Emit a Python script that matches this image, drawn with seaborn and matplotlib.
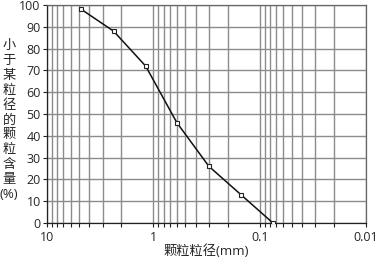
import numpy as np
import pandas as pd
from matplotlib import pyplot as plt
from matplotlib.ticker import LogLocator, FuncFormatter, MultipleLocator, NullFormatter
import seaborn as sns

# sieve sizes (mm) and passing percentage
sizes = [4.75, 2.36, 1.18, 0.6, 0.3, 0.15, 0.075]
passing = [98, 88, 72, 46, 26, 13, 0]
x_ticks = [10, 1, 0.1, 0.01]
ylabel = '小于某粒径的颗粒含量(%)'
xlabel = '颗粒粒径(mm)'

sns.set_style('white')
plt.rcParams['font.family'] = ['Open Sans', 'Noto Sans CJK SC', 'DejaVu Sans']

df = pd.DataFrame({'size': sizes, 'passing': passing})

fig = plt.figure(figsize=(3.77, 2.57), dpi=100)
ax = fig.add_axes([0.1247, 0.1323, 0.846, 0.848])

sns.lineplot(data=df, x='size', y='passing', ax=ax, color='#111111', lw=1.1,
             marker='s', markersize=3.2, markerfacecolor='white',
             markeredgecolor='#222222', markeredgewidth=0.8, zorder=3)

ax.set_xscale('log')
ax.set_xlim(10, 0.01)
ax.set_ylim(0, 100)
ax.xaxis.set_major_locator(LogLocator(base=10))
ax.xaxis.set_minor_locator(LogLocator(base=10, subs=np.arange(2, 10)))
ax.xaxis.set_major_formatter(FuncFormatter(lambda v, p: '%g' % v))
ax.xaxis.set_minor_formatter(NullFormatter())
ax.set_xticks(x_ticks)
ax.yaxis.set_major_locator(MultipleLocator(10))

ax.grid(True, which='both', axis='x', color='#8c8c8c', lw=1.0)
ax.grid(True, which='major', axis='y', color='#8c8c8c', lw=1.0)
ax.set_axisbelow(True)

ax.tick_params(axis='both', which='major', labelsize=9, length=3, width=0.8,
               direction='out', color='#222222', pad=1.5)
ax.tick_params(axis='x', which='major', pad=3)
ax.tick_params(axis='x', which='minor', length=3, width=0.8, color='#222222', bottom=True)
ax.tick_params(axis='y', left=True)
ax.tick_params(axis='x', bottom=True)

for s in ['top', 'right']:
    ax.spines[s].set_color('#666666')
for s in ['left', 'bottom']:
    ax.spines[s].set_color('#222222')
for s in ax.spines.values():
    s.set_linewidth(0.9)

ax.set_xlabel(xlabel, fontsize=9.5, labelpad=0)
ax.set_ylabel('')
vert = '\n'.join(list(ylabel[:-3])) + '\n(%)'
fig.text(0.024, 0.533, vert, fontsize=9.5, ha='center', va='center', linespacing=1.19)

plt.savefig('out.png', dpi=100)
plt.close()
